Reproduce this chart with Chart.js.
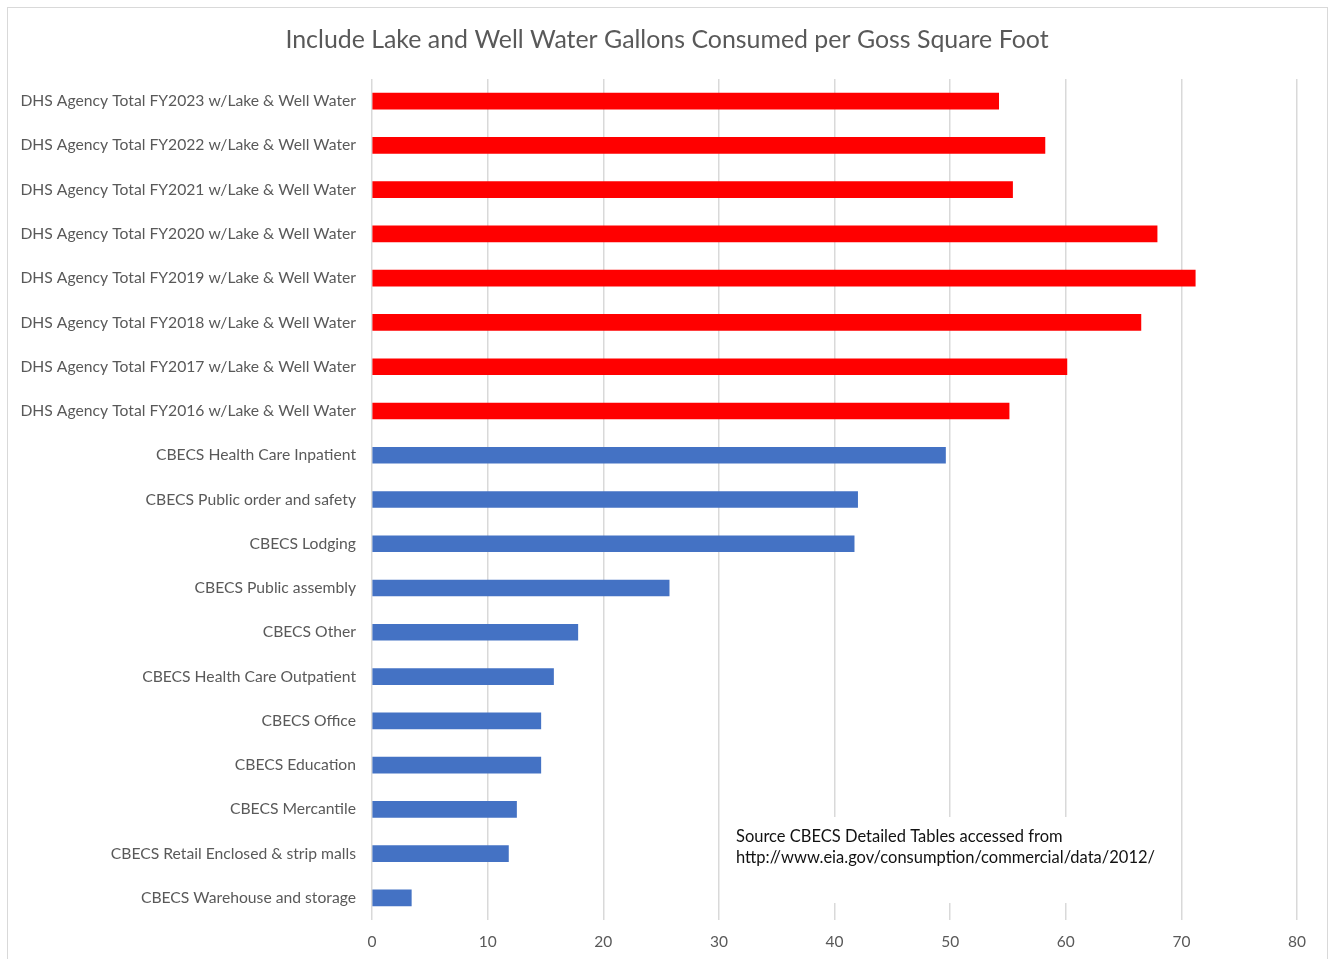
<!DOCTYPE html>
<html>
<head>
<meta charset="utf-8">
<title>Water Gallons per Gross Square Foot</title>
<script src="https://cdn.jsdelivr.net/npm/chart.js@4.4.0/dist/chart.umd.min.js"></script>
<style>
  html, body { margin: 0; padding: 0; background: #ffffff; }
  #wrap { position: relative; width: 1330px; height: 959px; overflow: hidden; }
  #frame { position: absolute; left: 7px; top: 7px; width: 1319px; height: 960px; border: 1px solid #d9d9d9; }
  #chart { position: absolute; left: 0; top: 0; }
</style>
</head>
<body>
<div id="wrap">
  <div id="frame"></div>
  <canvas id="chart" width="1330" height="959"></canvas>
</div>
<script>
// Categories, top to bottom
const categories = [
  'DHS Agency Total FY2023 w/Lake & Well Water',
  'DHS Agency Total FY2022 w/Lake & Well Water',
  'DHS Agency Total FY2021 w/Lake & Well Water',
  'DHS Agency Total FY2020 w/Lake & Well Water',
  'DHS Agency Total FY2019 w/Lake & Well Water',
  'DHS Agency Total FY2018 w/Lake & Well Water',
  'DHS Agency Total FY2017 w/Lake & Well Water',
  'DHS Agency Total FY2016 w/Lake & Well Water',
  'CBECS Health Care Inpatient',
  'CBECS Public order and safety',
  'CBECS Lodging',
  'CBECS Public assembly',
  'CBECS Other',
  'CBECS Health Care Outpatient',
  'CBECS Office',
  'CBECS Education',
  'CBECS Mercantile',
  'CBECS Retail Enclosed & strip malls',
  'CBECS Warehouse and storage'
];

// Gallons per gross square foot
const gallons = [54.2, 58.2, 55.4, 67.9, 71.2, 66.5, 60.1, 55.1,
                 49.6, 42.0, 41.7, 25.7, 17.8, 15.7, 14.6, 14.6, 12.5, 11.8, 3.4];

const xTicks = [0, 10, 20, 30, 40, 50, 60, 70, 80];

const titleText = 'Include Lake and Well Water Gallons Consumed per Goss Square Foot';
const sourceLines = [
  'Source CBECS Detailed Tables accessed from',
  'http://www.eia.gov/consumption/commercial/data/2012/'
];

const barColors = categories.map(c => c.startsWith('DHS') ? '#ff0000' : '#4472c4');

const FONT = 'Lato, Calibri, "Open Sans", sans-serif';
const GREY_TEXT = '#595959';

// Title centred on the whole frame, plus the source note in a white box over the gridlines
const extras = {
  id: 'extras',
  afterDraw(chart) {
    const ctx = chart.ctx;
    ctx.save();
    ctx.fillStyle = GREY_TEXT;
    ctx.font = '24.9px ' + FONT;
    ctx.textAlign = 'center';
    ctx.textBaseline = 'middle';
    ctx.fillText(titleText, 667, 40);

    ctx.fillStyle = '#ffffff';
    ctx.fillRect(722, 817, 456, 86);
    ctx.fillStyle = '#111111';
    ctx.font = '16.5px ' + FONT;
    ctx.textAlign = 'left';
    sourceLines.forEach((line, i) => {
      ctx.fillText(line, 736, 837 + i * 21);
    });
    ctx.restore();
  }
};

new Chart(document.getElementById('chart'), {
  type: 'bar',
  data: {
    labels: categories,
    datasets: [{
      data: gallons,
      backgroundColor: barColors,
      borderWidth: 0,
      barThickness: 16
    }]
  },
  options: {
    indexAxis: 'y',
    responsive: false,
    animation: false,
    layout: {
      padding: { left: 10, right: 33, top: 79, bottom: 8 }
    },
    plugins: {
      legend: { display: false },
      tooltip: { enabled: false },
      title: { display: false }
    },
    scales: {
      x: {
        min: 0,
        max: 80,
        afterBuildTicks(scale) {
          scale.ticks = xTicks.map(v => ({ value: v }));
        },
        afterFit(scale) {
          scale.height = 31;
        },
        grid: {
          color: '#d9d9d9',
          lineWidth: 1.5,
          drawTicks: false
        },
        border: { display: false },
        ticks: {
          color: GREY_TEXT,
          font: { family: FONT, size: 15.5 },
          padding: 13
        }
      },
      y: {
        afterFit(scale) {
          scale.width = 362;
        },
        grid: { display: false, drawTicks: false },
        border: { display: false },
        ticks: {
          color: GREY_TEXT,
          font: { family: FONT, size: 15.7 },
          padding: 16,
          autoSkip: false
        }
      }
    }
  },
  plugins: [extras]
});
</script>
</body>
</html>
